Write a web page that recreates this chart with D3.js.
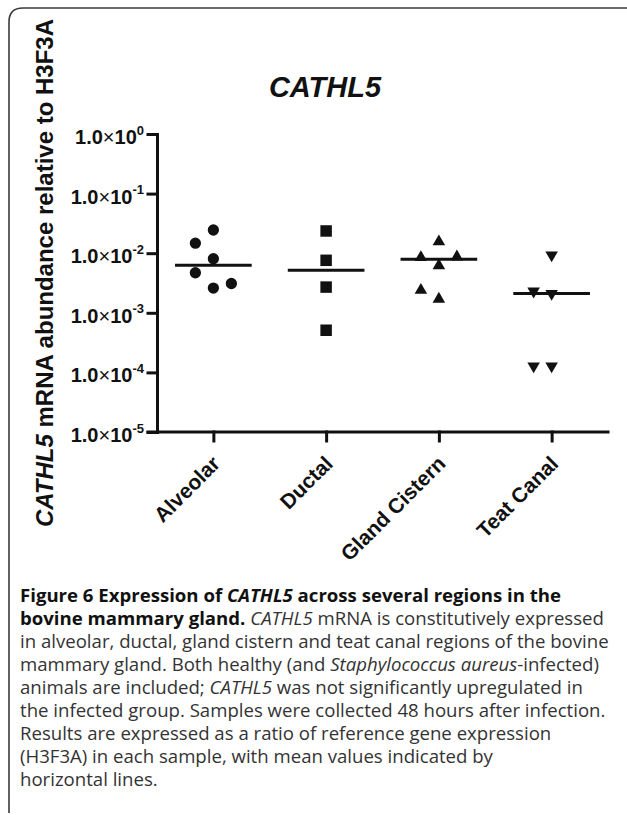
<!DOCTYPE html>
<html>
<head>
<meta charset="utf-8">
<script src="https://cdn.jsdelivr.net/npm/d3@7/dist/d3.min.js"></script>
<style>
  html, body { margin: 0; padding: 0; background: #fff; }
  svg { display: block; }
</style>
</head>
<body>
<svg id="chart" width="627" height="815"></svg>
<script>
// ---------------- data ----------------
const categories = ["Alveolar", "Ductal", "Gland Cistern", "Teat Canal"];
const alveolar     = [0.0245, 0.0147, 0.0081, 0.0047, 0.0026, 0.0031];
const ductal       = [0.0236, 0.0076, 0.0027, 0.00051];
const glandCistern = [0.0156, 0.0085, 0.0087, 0.0062, 0.0017, 0.0024];
const teatCanal    = [0.0093, 0.0021, 0.0023, 0.000128, 0.000128];
const means        = [0.0063, 0.0052, 0.0079, 0.0021];
const yTicks       = [1, 1e-1, 1e-2, 1e-3, 1e-4, 1e-5];
const yExponents   = ["0", "-1", "-2", "-3", "-4", "-5"];
const titleText    = "CATHL5";

const seriesValues = [alveolar, ductal, glandCistern, teatCanal];
const symbolTypes = [d3.symbolCircle, d3.symbolSquare, d3.symbolTriangle, d3.symbolTriangle];
const symbolSizes = [100, 132, 68, 68];
const symbolRotate = [0, 0, 0, 180];

// ---------------- layout ----------------
const svg = d3.select("#chart");
const FONT = "'Liberation Sans', Arial, Helvetica, sans-serif";
const x0 = 157, x1 = 608, yTop = 134, yBot = 432;

const x = d3.scalePoint().domain(categories).range([x0, x1]).padding(0.5);
const y = d3.scaleLog().domain([1e-5, 1]).range([yBot, yTop]);

// frame (rounded top-left corner)
const r = 14, fx = 9, fy = 8;
svg.append("path")
  .attr("d", `M${fx},813 L${fx},${fy + r} Q${fx},${fy} ${fx + r},${fy} L640,${fy}`)
  .attr("fill", "none").attr("stroke", "#3a3a3a").attr("stroke-width", 1.6);

// title
svg.append("text")
  .attr("x", 325).attr("y", 97)
  .attr("text-anchor", "middle")
  .attr("font-family", FONT).attr("font-weight", "bold").attr("font-style", "italic")
  .attr("font-size", 29).attr("fill", "#111")
  .text(titleText);

// y axis label
const yl = svg.append("text")
  .attr("transform", "translate(53,273) rotate(-90)")
  .attr("text-anchor", "middle")
  .attr("font-family", FONT).attr("font-weight", "bold")
  .attr("font-size", 24).attr("fill", "#111");
yl.append("tspan").attr("font-style", "italic").text("CATHL5");
yl.append("tspan").text(" mRNA abundance relative to H3F3A");

// y axis
const gy = svg.append("g").attr("transform", `translate(${x0},0)`)
  .call(d3.axisLeft(y).tickValues(yTicks).tickSize(9).tickSizeOuter(0).tickFormat(""));
gy.selectAll("text").remove();
gy.selectAll(".tick").each(function (d) {
  const t = d3.select(this).append("text")
    .attr("x", -13).attr("y", 9.5)
    .attr("text-anchor", "end")
    .attr("font-family", FONT).attr("font-weight", "bold")
    .attr("font-size", 20).attr("fill", "#111");
  t.append("tspan").text("1.0");
  t.append("tspan").attr("font-weight", "normal").text("\u00d7");
  t.append("tspan").text("10");
  t.append("tspan").attr("font-size", 13).attr("dy", -9.5).text(yExponents[yTicks.indexOf(d)]);
});

// x axis
const gx = svg.append("g").attr("transform", `translate(0,${yBot})`)
  .call(d3.axisBottom(x).tickSize(9).tickSizeOuter(0).tickFormat(""));
gx.selectAll("text").remove();
gx.select(".domain").attr("d", `M${x0 - 9},0H${x1}`);
categories.forEach(c => {
  svg.append("text")
    .attr("transform", `translate(${x(c) + 8},${yBot + 33}) rotate(-45)`)
    .attr("text-anchor", "end")
    .attr("font-family", FONT).attr("font-weight", "bold")
    .attr("font-size", 21).attr("fill", "#111")
    .text(c);
});

[gx, gy].forEach(g => {
  g.selectAll("path, line").attr("stroke", "#111").attr("stroke-width", 3)
    .attr("stroke-linecap", "square");
});

// points: deterministic side-by-side placement when markers would overlap
const STEP = 18;
categories.forEach((c, ci) => {
  const placed = [];
  seriesValues[ci].forEach(v => {
    const py = y(v);
    const cands = [0, -STEP, STEP, -2 * STEP, 2 * STEP];
    let off = 0;
    for (const o of cands) {
      const ok = placed.every(p => Math.hypot(p.o - o, p.y - py) >= STEP);
      if (ok) { off = o; break; }
    }
    placed.push({ o: off, y: py });
    svg.append("path")
      .attr("d", d3.symbol().type(symbolTypes[ci]).size(symbolSizes[ci])())
      .attr("transform", `translate(${x(c) + off},${py}) rotate(${symbolRotate[ci]})`)
      .attr("fill", "#111");
  });
});

// mean lines
const halfW = x.step() * 0.34;
svg.append("g").selectAll("line").data(categories).join("line")
  .attr("x1", d => x(d) - halfW).attr("x2", d => x(d) + halfW)
  .attr("y1", (d, i) => y(means[i])).attr("y2", (d, i) => y(means[i]))
  .attr("stroke", "#111").attr("stroke-width", 3);

// caption
const CAP = "'Open Sans', 'Noto Sans', sans-serif";
const captionLines = [
  [["Figure 6 Expression of ", "b"], ["CATHL5", "bi"], [" across several regions in the", "b"]],
  [["bovine mammary gland.", "b"], [" ", "n"], ["CATHL5", "i"], [" mRNA is constitutively expressed", "n"]],
  [["in alveolar, ductal, gland cistern and teat canal regions of the bovine", "n"]],
  [["mammary gland. Both healthy (and ", "n"], ["Staphylococcus aureus", "i"], ["-infected)", "n"]],
  [["animals are included; ", "n"], ["CATHL5", "i"], [" was not significantly upregulated in", "n"]],
  [["the infected group. Samples were collected 48 hours after infection.", "n"]],
  [["Results are expressed as a ratio of reference gene expression", "n"]],
  [["(H3F3A) in each sample, with mean values indicated by", "n"]],
  [["horizontal lines.", "n"]]
];
captionLines.forEach((line, li) => {
  const t = svg.append("text")
    .attr("x", 20).attr("y", 602 + li * 23)
    .attr("font-family", CAP).attr("font-size", 18.6).attr("fill", "#333");
  line.forEach(([s, st]) => {
    const ts = t.append("tspan").text(s);
    if (st.includes("b")) ts.attr("font-weight", "bold").attr("fill", "#111");
    if (st.includes("i")) ts.attr("font-style", "italic");
  });
});
</script>
</body>
</html>
